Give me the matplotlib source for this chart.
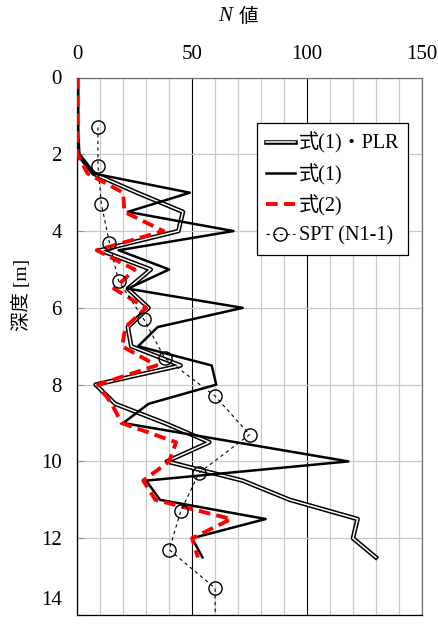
import matplotlib
matplotlib.use("Agg")
import matplotlib.pyplot as plt
import matplotlib.patheffects as pe
import matplotlib.transforms as mtransforms
from matplotlib.ticker import MultipleLocator

plt.rcParams['font.family'] = ['Liberation Serif', 'Noto Sans CJK JP', 'DejaVu Sans']

# ---- data ----
depth_calc = [0.0, 0.5, 1.0, 1.5, 2.0, 2.5, 3.0, 3.5, 4.0, 4.5, 5.0, 5.5, 6.0, 6.5,
              7.0, 7.5, 8.0, 8.5, 9.0, 9.5, 10.0, 10.5, 11.0, 11.5, 12.0, 12.5]
n_plr = [0, 0, 0, 0, 0.5, 7, 26, 46, 44, 10, 32, 22, 31, 22,
         23.5, 45, 8, 16.5, 38, 57.5, 39, 72, 92.5, 122, 120, 130]
n_eq1 = [0, 0, 0, 0, 0.5, 7, 49, 22, 68, 18, 40, 22, 72, 35,
         26.5, 58.5, 60.5, 31, 20, 69, 118, 30, 36, 82, 50, 54.5]
n_eq2 = [0, 0, 0, 0, 0, 4.5, 20, 20.5, 37.5, 8.5, 25, 16, 30, 21,
         19.5, 34.5, 9, 15, 19.3, 43, 40, 28.7, 34, 67, 50, 52.5]
depth_spt = [1.3, 2.3, 3.3, 4.3, 5.3, 6.3, 7.3, 8.3, 9.3, 10.3, 11.3, 12.3, 13.3, 14.0]
n_spt = [9, 9, 10.5, 14, 18, 29, 38, 60, 75, 53, 45, 40, 60, 60]
n_spt_markers = 13  # last point only continues the line to the bottom

labels = ['式(1)・PLR', '式(1)', '式(2)', 'SPT (N1-1)']
x_ticks = [0, 50, 100, 150]
y_ticks = [0, 2, 4, 6, 8, 10, 12, 14]

# ---- figure ----
fig = plt.figure(figsize=(4.39, 6.25), dpi=100)
ax = fig.add_axes([0.176, 0.016, 0.785, 0.860])

ax.set_xlim(0, 150)
ax.set_ylim(14, 0)
ax.set_xticks(x_ticks)
ax.set_yticks(y_ticks)
ax.xaxis.set_minor_locator(MultipleLocator(10))
ax.xaxis.tick_top()
ax.set_axisbelow(True)

ax.xaxis.grid(True, which='minor', color='#c8c8c8', lw=0.9)
ax.xaxis.grid(True, which='major', color='black', lw=0.8)
ax.yaxis.grid(True, which='major', color='#c8c8c8', lw=0.9)

ax.tick_params(axis='x', which='both', length=0, pad=10, labelsize=15)
ax.tick_params(axis='y', which='major', direction='in', length=5, color='#909090',
               pad=11, labelsize=15)

# the bottom label sits a little higher, inside the figure
last = ax.yaxis.get_major_ticks()[-1].label1
last.set_transform(last.get_transform() +
                   mtransforms.ScaledTranslation(0, 17 / 100, fig.dpi_scale_trans))

for s in ['left', 'bottom']:
    ax.spines[s].set_color('black')
    ax.spines[s].set_linewidth(0.9)
for s in ['top', 'right']:
    ax.spines[s].set_color('#707070')
    ax.spines[s].set_linewidth(0.9)

ax.plot(n_plr, depth_calc, color='white', lw=1.1, label=labels[0],
        path_effects=[pe.Stroke(linewidth=3.3, foreground='black'), pe.Normal()],
        zorder=3)
ax.plot(n_eq1, depth_calc, color='black', lw=1.8, label=labels[1], zorder=4)
ax.plot(n_eq2, depth_calc, color='#ff0000', lw=2.8, dashes=(3, 1.6),
        label=labels[2], zorder=5)
ax.plot(n_spt, depth_spt, color='black', lw=0.8, dashes=(3, 3), marker='o',
        markersize=9.5, markerfacecolor='none', markeredgecolor='black',
        markeredgewidth=1.0, markevery=list(range(n_spt_markers)),
        label=labels[3], zorder=6)

leg = ax.legend(loc='upper right', bbox_to_anchor=(0.96, 0.915), borderaxespad=0,
                fontsize=14.5, frameon=True, fancybox=False, framealpha=1,
                edgecolor='black', handlelength=1.4, handletextpad=0.2,
                labelspacing=0.5, borderpad=0.45)
leg.get_frame().set_linewidth(0.9)

ax.set_ylabel('深度 [m]', fontsize=14)
ax.yaxis.set_label_coords(-0.135, 0.595)

fig.text(0.5125, 0.973, 'N', fontsize=15, style='italic', family='Liberation Serif',
         ha='center', va='center')
fig.text(0.567, 0.973, '値', fontsize=14, family=['Noto Sans CJK JP'],
         ha='center', va='center')

fig.savefig('out.png', dpi=100)
